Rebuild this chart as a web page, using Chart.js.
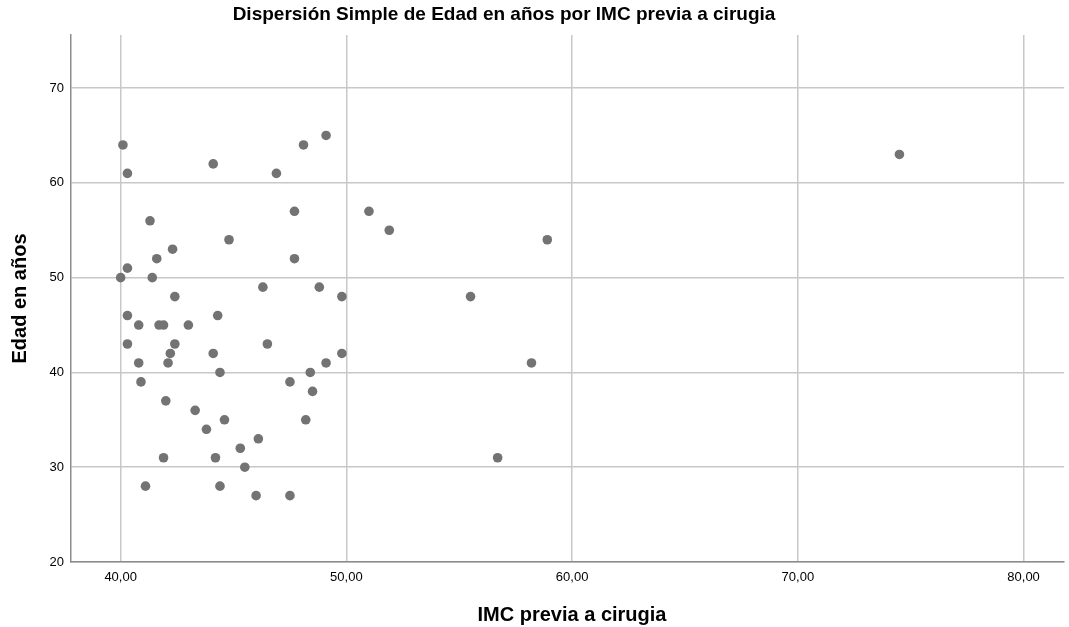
<!DOCTYPE html>
<html lang="es">
<head>
<meta charset="utf-8">
<script src="https://cdn.jsdelivr.net/npm/chart.js@4"></script>
<style>
  html, body { margin: 0; padding: 0; background: #fff; }
  #wrap { width: 1069px; height: 627px; position: relative; }
</style>
</head>
<body>
<div id="wrap"><canvas id="scatterChart"></canvas></div>
<script>
// IMC previa a cirugia (x) y Edad en años (y), un par por paciente
const imc = [
  40.1, 40.3, 44.1, 48.1, 49.1, 46.9, 74.5,
  41.3, 47.7, 51.0, 51.9, 44.8, 58.9, 42.3, 41.6, 47.7, 40.3,
  40.0, 41.4, 46.3, 48.8, 42.4, 49.8, 55.5,
  40.3, 44.3, 40.8, 41.7, 41.9, 43.0,
  40.3, 42.4, 46.5, 42.2, 44.1, 49.8,
  40.8, 42.1, 49.1, 58.2, 44.4, 48.4,
  40.9, 47.5, 48.5, 42.0, 43.3, 44.6, 48.2, 43.8, 46.1, 45.3,
  41.9, 44.2, 56.7, 45.5, 41.1, 44.4, 46.0, 47.5
];
const edad = [
  64, 61, 62, 64, 65, 61, 63,
  56, 57, 57, 55, 54, 54, 53, 52, 52, 51,
  50, 50, 49, 49, 48, 48, 48,
  46, 46, 45, 45, 45, 45,
  43, 43, 43, 42, 42, 42,
  41, 41, 41, 41, 40, 40,
  39, 39, 38, 37, 36, 35, 35, 34, 33, 32,
  31, 31, 31, 30, 28, 28, 27, 27
];
const xTicks = [40, 50, 60, 70, 80];
const yTicks = [20, 30, 40, 50, 60, 70];

const titleText = 'Dispersión Simple de Edad en años por IMC previa a cirugia';
const xTitle = 'IMC previa a cirugia';
const yTitle = 'Edad en años';

const points = imc.map((x, i) => ({ x: x, y: edad[i] }));
const font = '"Liberation Sans", Arial, sans-serif';

// título principal y título del eje X, dibujados como en el original (no centrados en el área)
const titulos = {
  id: 'titulos',
  afterDraw(chart) {
    const ctx = chart.ctx;
    ctx.save();
    ctx.fillStyle = '#000';
    ctx.textAlign = 'center';
    ctx.textBaseline = 'alphabetic';
    ctx.font = 'bold 19px ' + font;
    ctx.fillText(titleText, 504, 20);
    ctx.font = 'bold 20px ' + font;
    ctx.fillText(xTitle, 572, 621);
    ctx.restore();
  }
};

new Chart(document.getElementById('scatterChart'), {
  type: 'scatter',
  data: {
    datasets: [{
      data: points,
      backgroundColor: '#737373',
      borderWidth: 0,
      pointRadius: 4.8,
      pointHoverRadius: 4.8
    }]
  },
  options: {
    responsive: true,
    maintainAspectRatio: false,
    animation: false,
    layout: { padding: { left: 0, right: 0, top: 35, bottom: 0 } },
    plugins: {
      legend: { display: false },
      tooltip: { enabled: false },
      title: { display: false }
    },
    scales: {
      x: {
        type: 'linear',
        min: 37.8,
        max: 81.8,
        afterBuildTicks: s => { s.ticks = xTicks.map(v => ({ value: v })); },
        afterFit: s => { s.height = 65; },
        ticks: {
          color: '#000',
          padding: 8,
          maxRotation: 0,
          font: { family: font, size: 13 },
          callback: v => v.toFixed(2).replace('.', ',')
        },
        grid: { color: '#c8c8c8', lineWidth: 1.5, drawTicks: false },
        border: { color: '#8c8c8c', width: 1.5 }
      },
      y: {
        type: 'linear',
        min: 20,
        max: 75.6,
        afterBuildTicks: s => { s.ticks = yTicks.map(v => ({ value: v })); },
        afterFit: s => { s.width = 71; },
        ticks: {
          color: '#000',
          padding: 7,
          font: { family: font, size: 13 }
        },
        grid: { color: '#c8c8c8', lineWidth: 1.5, drawTicks: false },
        border: { color: '#8c8c8c', width: 1.5 },
        title: {
          display: true,
          text: yTitle,
          color: '#000',
          font: { family: font, size: 20, weight: 'bold' },
          padding: { top: 8, bottom: 0 }
        }
      }
    }
  },
  plugins: [titulos]
});
</script>
</body>
</html>
